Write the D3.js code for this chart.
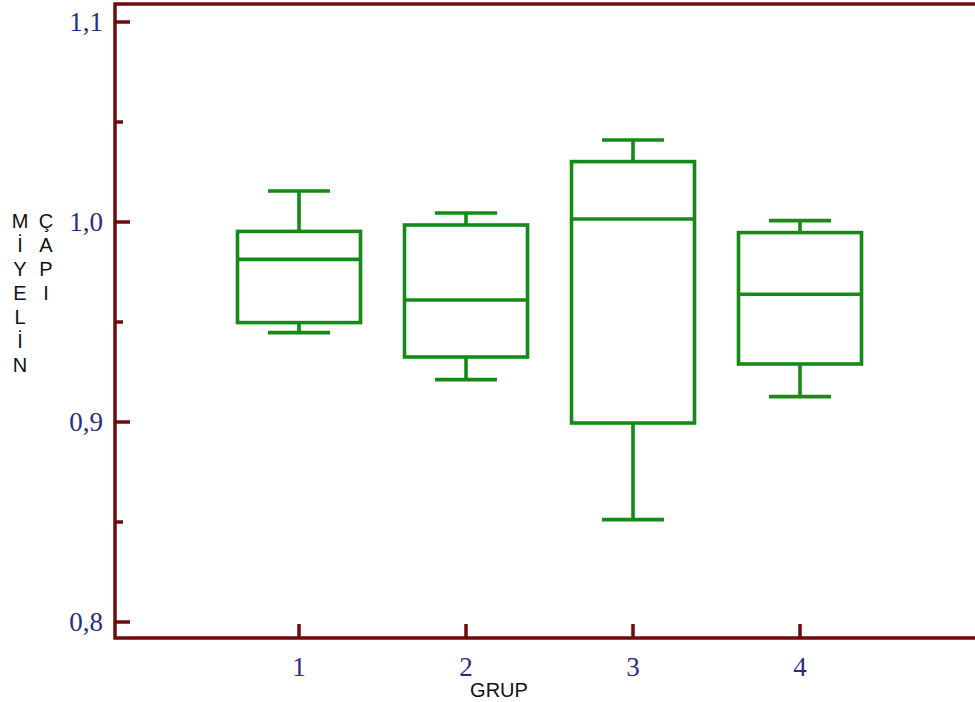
<!DOCTYPE html>
<html>
<head>
<meta charset="utf-8">
<script src="https://cdn.jsdelivr.net/npm/d3@7"></script>
<style>
  html, body { margin: 0; padding: 0; background: #ffffff; }
  svg { display: block; }
</style>
</head>
<body>
<svg id="chart" width="975" height="702"></svg>
<script>
// ---- data ----
const groups = [1, 2, 3, 4];
const groupLabels = ["1", "2", "3", "4"];
const whiskerHigh = [1.0155, 1.0045, 1.041, 1.0007];
const q3 = [0.9953, 0.9985, 1.0302, 0.9947];
const median = [0.9813, 0.961, 1.0015, 0.9639];
const q1 = [0.9497, 0.9325, 0.8995, 0.929];
const whiskerLow = [0.9447, 0.9212, 0.8512, 0.9127];
const yMajorTicks = [0.8, 0.9, 1.0, 1.1];
const yMajorLabels = ["0,8", "0,9", "1,0", "1,1"];
const yMinorTicks = [0.85, 0.95, 1.05];
const yTitleCol1 = ["M", "İ", "Y", "E", "L", "İ", "N"];
const yTitleCol2 = ["Ç", "A", "P", "I"];
const xTitle = "GRUP";

// ---- layout ----
const axisColor = "#6e0b0b";
const boxColor = "#168a16";
const labelColor = "#2b2b86";
const frame = { left: 115, top: 4, bottom: 638, right: 990 };

const svg = d3.select("#chart");
const y = d3.scaleLinear().domain([0.8, 1.1]).range([622, 22]);
const x = d3.scaleLinear().domain([1, 4]).range([299, 800]);

const boxW = 123, capW = 62, sw = 3.6;

// ---- boxes ----
const data = groups.map((g, i) => ({
  g, hi: whiskerHigh[i], q3: q3[i], med: median[i], q1: q1[i], lo: whiskerLow[i]
}));

const bg = svg.append("g").attr("fill", "none").attr("stroke", boxColor).attr("stroke-width", sw);
data.forEach(d => {
  const cx = x(d.g);
  bg.append("rect")
    .attr("x", cx - boxW / 2).attr("y", y(d.q3))
    .attr("width", boxW).attr("height", y(d.q1) - y(d.q3));
  bg.append("line").attr("x1", cx - boxW / 2).attr("x2", cx + boxW / 2)
    .attr("y1", y(d.med)).attr("y2", y(d.med));
  bg.append("line").attr("x1", cx).attr("x2", cx).attr("y1", y(d.q3)).attr("y2", y(d.hi));
  bg.append("line").attr("x1", cx).attr("x2", cx).attr("y1", y(d.q1)).attr("y2", y(d.lo));
  bg.append("line").attr("x1", cx - capW / 2).attr("x2", cx + capW / 2).attr("y1", y(d.hi)).attr("y2", y(d.hi));
  bg.append("line").attr("x1", cx - capW / 2).attr("x2", cx + capW / 2).attr("y1", y(d.lo)).attr("y2", y(d.lo));
});

// ---- frame / axes ----
const ag = svg.append("g").attr("stroke", axisColor).attr("stroke-width", 3.5).attr("fill", "none");
ag.append("path")
  .attr("d", `M${frame.right},${frame.top}H${frame.left}V${frame.bottom}H${frame.right}`)
  .attr("stroke-linejoin", "miter");

// y ticks (inward)
yMajorTicks.forEach(v => {
  ag.append("line").attr("x1", frame.left).attr("x2", frame.left + 15)
    .attr("y1", y(v)).attr("y2", y(v));
});
yMinorTicks.forEach(v => {
  ag.append("line").attr("x1", frame.left).attr("x2", frame.left + 8)
    .attr("y1", y(v)).attr("y2", y(v));
});
// x ticks (inward)
groups.forEach(g => {
  ag.append("line").attr("x1", x(g)).attr("x2", x(g))
    .attr("y1", frame.bottom).attr("y2", frame.bottom - 14);
});

// tick labels
const tl = svg.append("g")
  .attr("font-family", "'Liberation Serif', 'Times New Roman', serif")
  .attr("font-size", 27).attr("fill", labelColor);
yMajorTicks.forEach((v, i) => {
  tl.append("text").attr("x", 103).attr("y", y(v)).attr("dy", "0.33em")
    .attr("text-anchor", "end").text(yMajorLabels[i]);
});
groups.forEach((g, i) => {
  tl.append("text").attr("x", x(g)).attr("y", 676)
    .attr("text-anchor", "middle").text(groupLabels[i]);
});

// axis titles
const tt = svg.append("g")
  .attr("font-family", "'Liberation Sans', Arial, sans-serif")
  .attr("font-size", 20).attr("fill", "#111");
yTitleCol1.forEach((c, i) => {
  tt.append("text").attr("x", 20).attr("y", 228 + i * 24)
    .attr("text-anchor", "middle").text(c);
});
yTitleCol2.forEach((c, i) => {
  tt.append("text").attr("x", 46).attr("y", 228 + i * 24)
    .attr("text-anchor", "middle").text(c);
});
tt.append("text").attr("x", 499).attr("y", 697)
  .attr("text-anchor", "middle").text(xTitle);
</script>
</body>
</html>
